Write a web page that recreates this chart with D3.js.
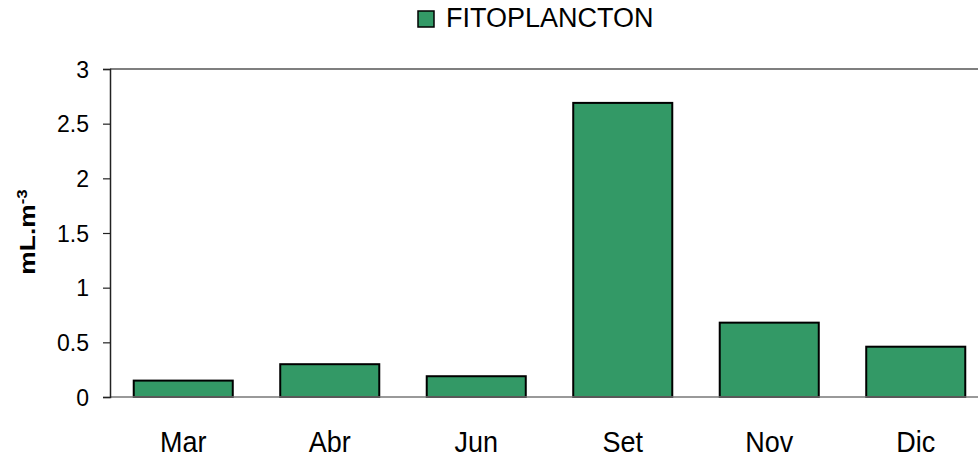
<!DOCTYPE html>
<html lang="es">
<head>
    <meta charset="UTF-8">
    <title>Fitoplancton</title>
    <script src="https://cdn.jsdelivr.net/npm/d3@7"></script>
    <style>
        body{
            margin: 0;
            background: white;
        }
        svg text{
            font-family: "Liberation Sans", Arial, sans-serif;
            fill: black;
        }
    </style>
</head>
<body>
<svg></svg>
<script>
    // data
    const months = ["Mar", "Abr", "Jun", "Set", "Nov", "Dic"];
    const fitoplancton = [0.15, 0.30, 0.19, 2.69, 0.68, 0.46];
    const yTicks = [0, 0.5, 1, 1.5, 2, 2.5, 3];
    const seriesName = "FITOPLANCTON";

    const width = 978;
    const height = 459;
    const green = "#339966";

    const svg = d3.select("svg")
        .attr("width", width)
        .attr("height", height);

    // plot area (runs past the right edge, as in the original)
    const plotLeft = 110, plotRight = 989, plotTop = 69, plotBottom = 397;

    const x = d3.scaleBand()
        .domain(months)
        .range([plotLeft, plotRight])
        .paddingInner(0.324)
        .paddingOuter(0.162);

    const y = d3.scaleLinear()
        .domain([0, 3])
        .range([plotBottom, plotTop]);

    // top line at 3 and the baseline
    svg.append("line")
        .attr("x1", plotLeft).attr("x2", width)
        .attr("y1", y(3)).attr("y2", y(3))
        .attr("stroke", "#555").attr("stroke-width", 1.5);

    // bars
    svg.append("g")
        .selectAll("rect")
        .data(fitoplancton)
        .join("rect")
        .attr("x", (d, i) => x(months[i]))
        .attr("y", d => y(d))
        .attr("width", x.bandwidth())
        .attr("height", d => y(0) - y(d))
        .attr("fill", green)
        .attr("stroke", "black")
        .attr("stroke-width", 2);

    svg.append("line")
        .attr("x1", plotLeft).attr("x2", width)
        .attr("y1", y(0)).attr("y2", y(0))
        .attr("stroke", "#777").attr("stroke-width", 1.5);

    // y axis
    const yAxis = svg.append("g")
        .attr("transform", `translate(${plotLeft},0)`)
        .call(d3.axisLeft(y).tickValues(yTicks).tickSize(7).tickPadding(14).tickFormat(d3.format("")));
    yAxis.select(".domain").attr("stroke", "#222").attr("stroke-width", 1.5);
    yAxis.selectAll(".tick line").attr("stroke", "#222").attr("stroke-width", 1.2);
    yAxis.selectAll("text")
        .style("font-size", "23px")
        .attr("dy", "0.35em");

    // x labels (the original text is a bit taller than wide)
    svg.append("g")
        .selectAll("text")
        .data(months)
        .join("text")
        .attr("transform", d => `translate(${x(d) + x.bandwidth() / 2},452) scale(1,1.12)`)
        .attr("text-anchor", "middle")
        .style("font-size", "27px")
        .text(d => d);

    // y title
    const yTitle = svg.append("text")
        .attr("transform", "translate(35,232) rotate(-90) scale(1.2,1)")
        .attr("text-anchor", "middle")
        .style("font-size", "22px")
        .style("font-weight", "bold");
    yTitle.append("tspan").text("mL.m");
    yTitle.append("tspan")
        .attr("dy", "-0.55em")
        .style("font-size", "14px")
        .text("-3");

    // legend
    const legend = svg.append("g");
    legend.append("rect")
        .attr("x", 418).attr("y", 11)
        .attr("width", 16).attr("height", 16)
        .attr("fill", green)
        .attr("stroke", "black")
        .attr("stroke-width", 1.5);
    legend.append("text")
        .attr("x", 446)
        .attr("y", 27)
        .style("font-size", "27px")
        .text(seriesName);
</script>
</body>
</html>
